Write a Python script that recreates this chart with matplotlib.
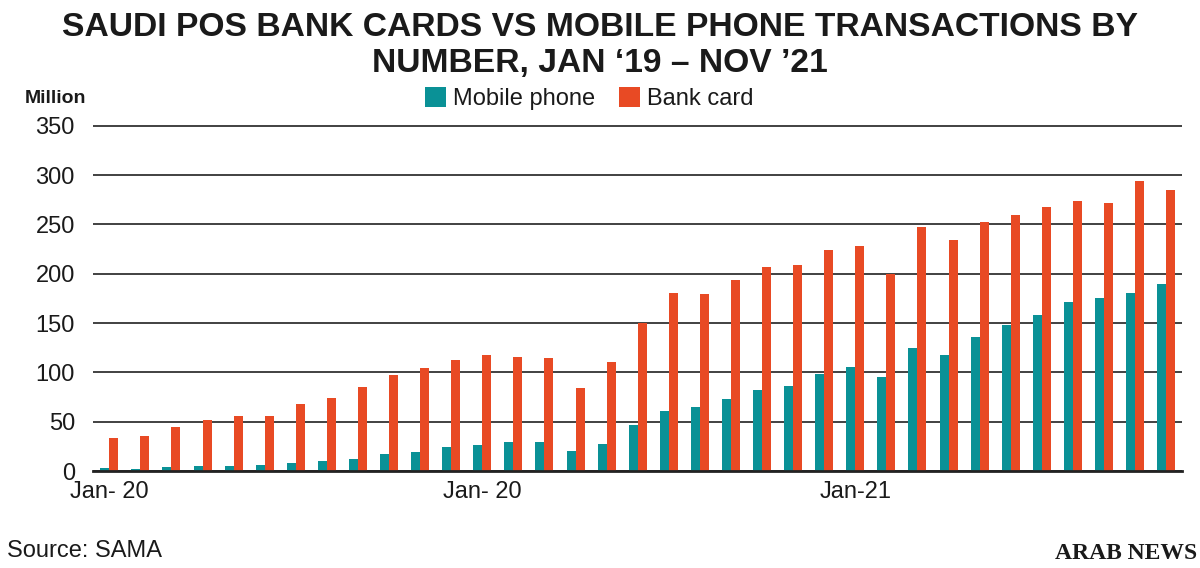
import matplotlib
matplotlib.use("Agg")
import matplotlib.pyplot as plt
import numpy as np

# ---- data ----
mobile_phone = [3.4, 2, 4.4, 5.4, 5.4, 6.4, 8.1, 9.8, 11.8, 16.9, 19.3, 24, 26.7, 29.4, 29.4,
                20.6, 27.4, 46.3, 60.5, 65, 73.3, 81.8, 85.8, 98.3, 105,
                95.6, 124.3, 117.6, 136, 148.3, 158, 171.6, 175.7, 180.4, 190]
bank_card = [33.1, 35.5, 44.6, 51.7, 55.4, 55.4, 67.6, 74.3, 84.8, 97.3, 104.4, 112.2, 117.6, 115.5, 114.5,
             84.5, 110, 149.7, 180, 179.4, 194, 206.4, 208.4, 224, 228.4,
             199.7, 247.6, 234, 252, 259, 268, 273.3, 272, 293.6, 284.8]
tick_positions = [0, 12, 24]
tick_labels = ["Jan- 20", "Jan- 20", "Jan-21"]
y_ticks = [0, 50, 100, 150, 200, 250, 300, 350]
series_names = ["Mobile phone", "Bank card"]

TEAL = "#0A9196"
ORANGE = "#E84A24"
GRID = "#333333"
FONT = "Liberation Sans"

W, H = 1200, 568
fig = plt.figure(figsize=(W / 100, H / 100), dpi=100)

# axes placement (pixels)
left_px, right_px, zero_px, top350_px = 93, 1182, 471, 125.7
ymax = 351
height_px = (zero_px - top350_px) * ymax / 350
ax = fig.add_axes([left_px / W, 1 - zero_px / H, (right_px - left_px) / W, height_px / H])

x = np.arange(len(bank_card))
bw = 0.29
ax.bar(x - bw / 2, mobile_phone, width=bw, color=TEAL, zorder=3, label=series_names[0])
ax.bar(x + bw / 2, bank_card, width=bw, color=ORANGE, zorder=3, label=series_names[1])

ax.set_xlim(-0.524, 34.51)
ax.set_ylim(0, ymax)
ax.set_yticks(y_ticks)
ax.set_yticklabels([str(v) for v in y_ticks], fontsize=17, family=FONT, color="#1a1a1a")
ax.set_xticks(tick_positions)
ax.set_xticklabels(tick_labels, fontsize=17, family=FONT, color="#1a1a1a")
ax.tick_params(axis="y", length=0, pad=13)
ax.tick_params(axis="x", length=0, pad=7)
ax.yaxis.grid(True, color=GRID, linewidth=1.3, zorder=1)
ax.set_axisbelow(True)
ax.axhline(0, color="#222222", linewidth=2, zorder=4, clip_on=False)
for s in ax.spines.values():
    s.set_visible(False)

# title
fig.text(0.5, 1 - 36 / H, "SAUDI POS BANK CARDS VS MOBILE PHONE TRANSACTIONS BY",
         ha="center", va="baseline", fontsize=24.2, fontweight="bold", family=FONT, color="#1a1a1a")
fig.text(0.5, 1 - 72 / H, "NUMBER, JAN \u201819 \u2013 NOV \u201921",
         ha="center", va="baseline", fontsize=24.2, fontweight="bold", family=FONT, color="#1a1a1a")

# legend
leg = fig.legend(loc="center", bbox_to_anchor=(589.5 / W, 1 - 98.5 / H), ncol=2, frameon=False,
                 prop={"family": FONT, "size": 17}, handlelength=0.89, handleheight=0.89,
                 handletextpad=0.3, columnspacing=1.0, borderpad=0, borderaxespad=0)
for t in leg.get_texts():
    t.set_color("#1a1a1a")

fig.text(25 / W, 1 - 103 / H, "Million", ha="left", va="baseline", fontsize=14,
         fontweight="bold", family=FONT, color="#1a1a1a")
fig.text(7 / W, 1 - 557 / H, "Source: SAMA", ha="left", va="baseline", fontsize=17,
         family=FONT, color="#1a1a1a")
fig.text(1197 / W, 1 - 559 / H, "ARAB NEWS", ha="right", va="baseline", fontsize=17,
         fontweight="bold", family="Liberation Serif", color="#1a1a1a")

fig.savefig("out.png", dpi=100)
